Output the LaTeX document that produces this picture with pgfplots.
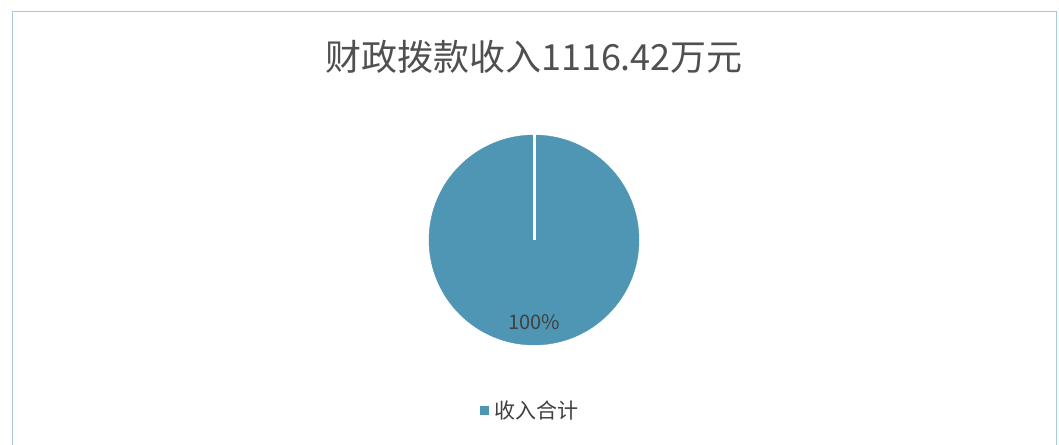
\documentclass[border=0pt]{standalone}
\usepackage{fontspec}
\setmainfont{Noto Sans CJK SC}
\usepackage{pgfplots}
\pgfplotsset{compat=1.18}
\definecolor{piecol}{RGB}{78,150,180}
\definecolor{titlecol}{RGB}{80,80,80}
\definecolor{labcol}{RGB}{64,64,64}
\definecolor{framecol}{RGB}{170,200,220}
\begin{document}
\begin{tikzpicture}
\begin{axis}[
  width=1059bp, height=445bp, scale only axis,
  xmin=0, xmax=1059, ymin=0, ymax=445, y dir=reverse,
  hide axis, clip mode=individual,
  legend style={at={(axis cs:530,410)}, anchor=center, draw=none, fill=none,
    font=\fontsize{21bp}{24bp}\selectfont, text=labcol},
]
\addplot[framecol, line width=1bp, forget plot] coordinates {(12,445) (12,12) (1056,12) (1056,445)};
\addplot[piecol, only marks, mark=*, mark size=105bp, mark options={fill=piecol, draw=none}, forget plot] coordinates {(534,240)};
\addplot[white, line width=3bp, forget plot] coordinates {(534,240) (534,133)};
\addlegendimage{legend image code/.code={\fill[piecol, draw=none] (0bp,-4.5bp) rectangle (9bp,4.5bp); \path[draw=none, fill=none] (0bp,0bp) rectangle (13bp,0.1bp);}}
\addlegendentry{收入合计}
\node[font=\fontsize{36bp}{40bp}\selectfont, text=titlecol] at (axis cs:534,57) {财政拨款收入1116.42万元};
\node[font=\fontsize{20bp}{24bp}\selectfont, text=labcol] at (axis cs:534,322) {100\%};
\end{axis}
\pgfresetboundingbox
\path (current axis.south west) rectangle (current axis.north east);
\end{tikzpicture}
\end{document}
